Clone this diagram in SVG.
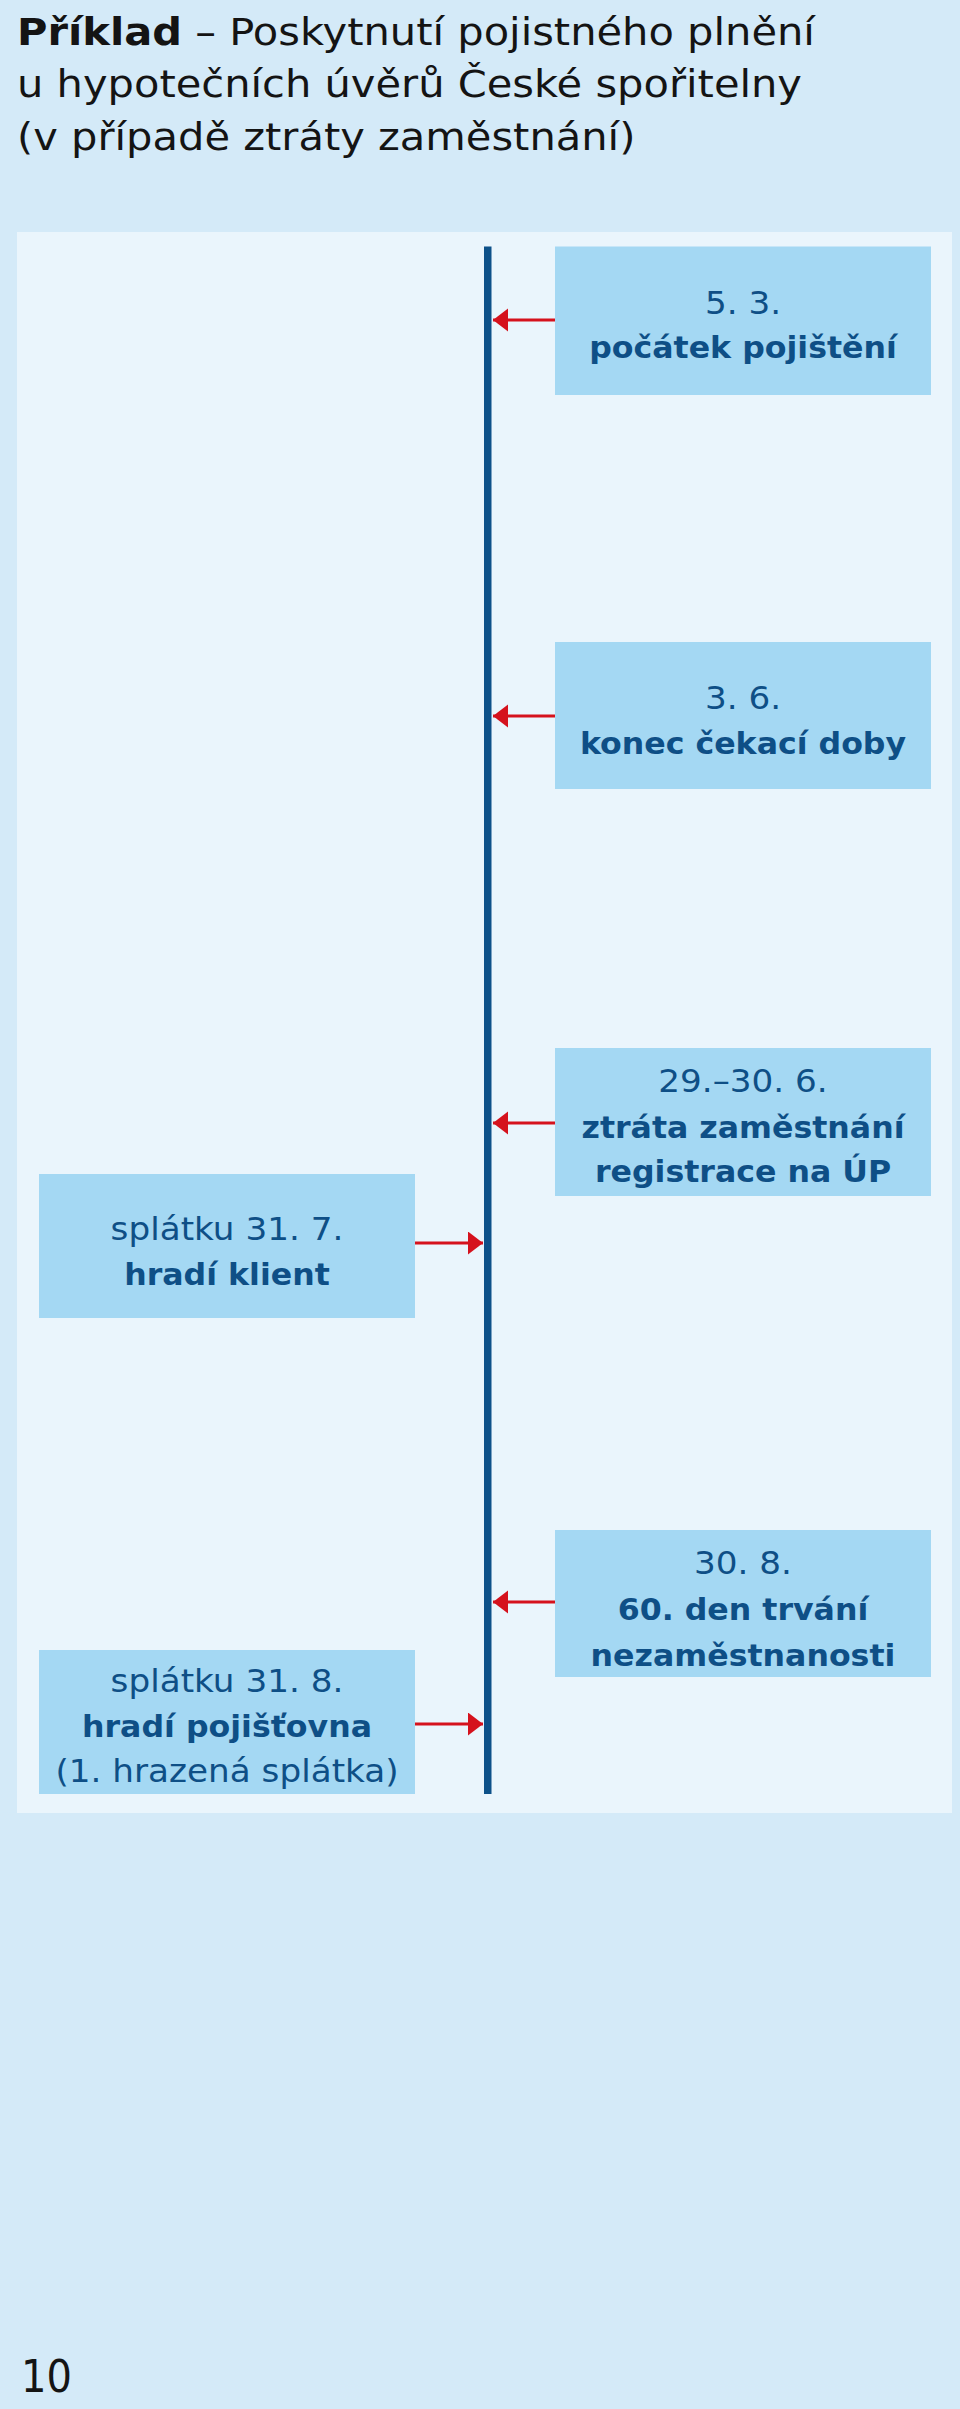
<svg xmlns="http://www.w3.org/2000/svg" width="960" height="2409" viewBox="0 0 960 2409">
<style>
.title{font-family:"DejaVu Sans",sans-serif;font-size:37px;fill:#141414}
.tb{font-weight:bold}
.box{fill:#a4d8f3}
.reg{font-family:"DejaVu Sans",sans-serif;font-size:32px;fill:#0e4f86;text-anchor:middle}
.bold{font-family:"DejaVu Sans",sans-serif;font-size:31px;font-weight:bold;fill:#0e4f86;text-anchor:middle}
.arr{stroke:#d5121d;stroke-width:3;fill:none;marker-end:url(#ah)}
.pg{font-family:"DejaVu Sans",sans-serif;font-size:45px;fill:#141414}
</style>
<defs>
<marker id="ah" markerUnits="userSpaceOnUse" markerWidth="16" markerHeight="24" refX="15" refY="11.5" orient="auto">
<path d="M0,0 L15,11.5 L0,23 Z" fill="#d5121d"/>
</marker>
</defs>
<rect x="0" y="0" width="960" height="2409" fill="#d4eaf8"/>
<g id="title">
<text class="title" transform="translate(17,45) scale(1.124,1)"><tspan class="tb">Příklad</tspan> – Poskytnutí pojistného plnění</text>
<text class="title" transform="translate(17,97) scale(1.124,1)">u hypotečních úvěrů České spořitelny</text>
<text class="title" transform="translate(17,150) scale(1.124,1)">(v případě ztráty zaměstnání)</text>
</g>
<rect id="panel" x="17" y="232" width="935" height="1581" fill="#eaf5fc"/>
<g id="timeline">
<rect x="484" y="246.5" width="7.5" height="1547.5" fill="#0d5189"/>
</g>
<g id="connectors">
<line class="arr" x1="555" y1="320" x2="493" y2="320"/>
<line class="arr" x1="555" y1="716" x2="493" y2="716"/>
<line class="arr" x1="555" y1="1123" x2="493" y2="1123"/>
<line class="arr" x1="555" y1="1602" x2="493" y2="1602"/>
<line class="arr" x1="415" y1="1243" x2="483" y2="1243"/>
<line class="arr" x1="415" y1="1724" x2="483" y2="1724"/>
</g>
<g id="n1">
<rect class="box" x="555" y="246.5" width="376" height="148.5"/>
<text class="reg" transform="translate(743,313.5) scale(1.07,1)">5. 3.</text>
<text class="bold" transform="translate(743,358) scale(1.02,1)">počátek pojištění</text>
</g>
<g id="n2">
<rect class="box" x="555" y="642" width="376" height="147"/>
<text class="reg" transform="translate(743,709) scale(1.07,1)">3. 6.</text>
<text class="bold" transform="translate(743,753.5) scale(1.02,1)">konec čekací doby</text>
</g>
<g id="n3">
<rect class="box" x="555" y="1048" width="376" height="148"/>
<text class="reg" transform="translate(743,1091.5) scale(1.07,1)">29.–30. 6.</text>
<text class="bold" transform="translate(743,1137.5) scale(1.02,1)">ztráta zaměstnání</text>
<text class="bold" transform="translate(743,1182) scale(1.02,1)">registrace na ÚP</text>
</g>
<g id="n4">
<rect class="box" x="555" y="1530" width="376" height="147"/>
<text class="reg" transform="translate(743,1573.5) scale(1.07,1)">30. 8.</text>
<text class="bold" transform="translate(743,1619.5) scale(1.02,1)">60. den trvání</text>
<text class="bold" transform="translate(743,1665.5) scale(1.02,1)">nezaměstnanosti</text>
</g>
<g id="n5">
<rect class="box" x="39" y="1174" width="376" height="144"/>
<text class="reg" transform="translate(227,1239.5) scale(1.07,1)">splátku 31. 7.</text>
<text class="bold" transform="translate(227,1285) scale(1.02,1)">hradí klient</text>
</g>
<g id="n6">
<rect class="box" x="39" y="1650" width="376" height="144"/>
<text class="reg" transform="translate(227,1691.5) scale(1.07,1)">splátku 31. 8.</text>
<text class="bold" transform="translate(227,1737) scale(1.02,1)">hradí pojišťovna</text>
<text class="reg" transform="translate(227,1781.5) scale(1.07,1)">(1. hrazená splátka)</text>
</g>
<text id="page" class="pg" transform="translate(21,2391.5) scale(0.89,1)">10</text>
</svg>
